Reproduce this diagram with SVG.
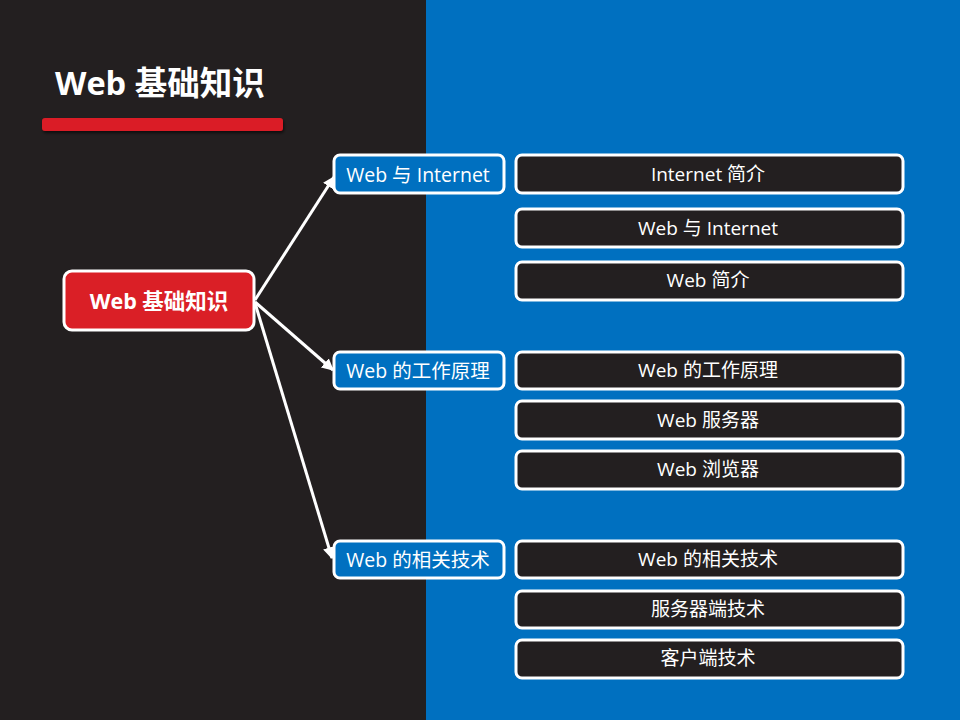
<svg xmlns="http://www.w3.org/2000/svg" width="960" height="720" viewBox="0 0 960 720">
<defs>
<marker id="arr" viewBox="0 0 10 10" refX="9" refY="5" markerWidth="4" markerHeight="4" orient="auto" markerUnits="strokeWidth">
<path d="M0,0 L10,5 L0,10 z" fill="#ffffff"/>
</marker>
<filter id="sh" x="-10%" y="-50%" width="120%" height="250%">
<feDropShadow dx="1" dy="2" stdDeviation="1.5" flood-color="#000" flood-opacity="0.6"/>
</filter>
</defs>
<style>
text{font-family:"Open Sans","Noto Sans CJK SC",sans-serif;fill:#fff;text-anchor:middle;dominant-baseline:central}
.mid rect{fill:#0070c0;stroke:#fff;stroke-width:3}
.leaf rect{fill:#231f20;stroke:#fff;stroke-width:3}
.mid text{font-size:19.5px}
.leaf text{font-size:19px}
.conn line{stroke:#fff;stroke-width:3;marker-end:url(#arr)}
</style>
<rect x="0" y="0" width="426" height="720" fill="#231f20"/>
<rect x="426" y="0" width="534" height="720" fill="#0070c0"/>
<g id="title">
<text x="55" y="82" style="text-anchor:start;font-size:32.5px;font-weight:bold">Web 基础知识</text>
<rect x="42" y="118" width="241" height="13" rx="3" fill="#da1f26" filter="url(#sh)"/>
</g>
<g class="conn" id="connectors">
<line x1="255" y1="300" x2="334" y2="177"/>
<line x1="255" y1="302" x2="333" y2="370"/>
<line x1="255" y1="303" x2="332" y2="558"/>
</g>
<g id="root">
<rect x="64" y="271" width="190" height="59" rx="8" fill="#da1f26" stroke="#fff" stroke-width="3"/>
<text x="159" y="300" style="font-size:21.5px;font-weight:bold">Web 基础知识</text>
</g>
<g id="m1" class="mid"><rect x="334" y="155" width="170" height="38" rx="6"/><text x="418" y="174">Web 与 Internet</text></g>
<g id="m2" class="mid"><rect x="334" y="352" width="170" height="37" rx="6"/><text x="418" y="370">Web 的工作原理</text></g>
<g id="m3" class="mid"><rect x="334" y="541" width="170" height="37" rx="6"/><text x="418" y="559">Web 的相关技术</text></g>
<g id="l1" class="leaf"><rect x="516" y="155" width="387" height="38" rx="6"/><text x="708" y="174">Internet 简介</text></g>
<g id="l2" class="leaf"><rect x="516" y="209" width="387" height="38" rx="6"/><text x="708" y="228">Web 与 Internet</text></g>
<g id="l3" class="leaf"><rect x="516" y="262" width="387" height="38" rx="6"/><text x="708" y="280">Web 简介</text></g>
<g id="l4" class="leaf"><rect x="516" y="352" width="387" height="37" rx="6"/><text x="708" y="370">Web 的工作原理</text></g>
<g id="l5" class="leaf"><rect x="516" y="401" width="387" height="38" rx="6"/><text x="708" y="420">Web 服务器</text></g>
<g id="l6" class="leaf"><rect x="516" y="451" width="387" height="38" rx="6"/><text x="708" y="469">Web 浏览器</text></g>
<g id="l7" class="leaf"><rect x="516" y="541" width="387" height="37" rx="6"/><text x="708" y="559">Web 的相关技术</text></g>
<g id="l8" class="leaf"><rect x="516" y="591" width="387" height="37" rx="6"/><text x="708" y="609">服务器端技术</text></g>
<g id="l9" class="leaf"><rect x="516" y="640" width="387" height="38" rx="6"/><text x="708" y="658">客户端技术</text></g>
</svg>
